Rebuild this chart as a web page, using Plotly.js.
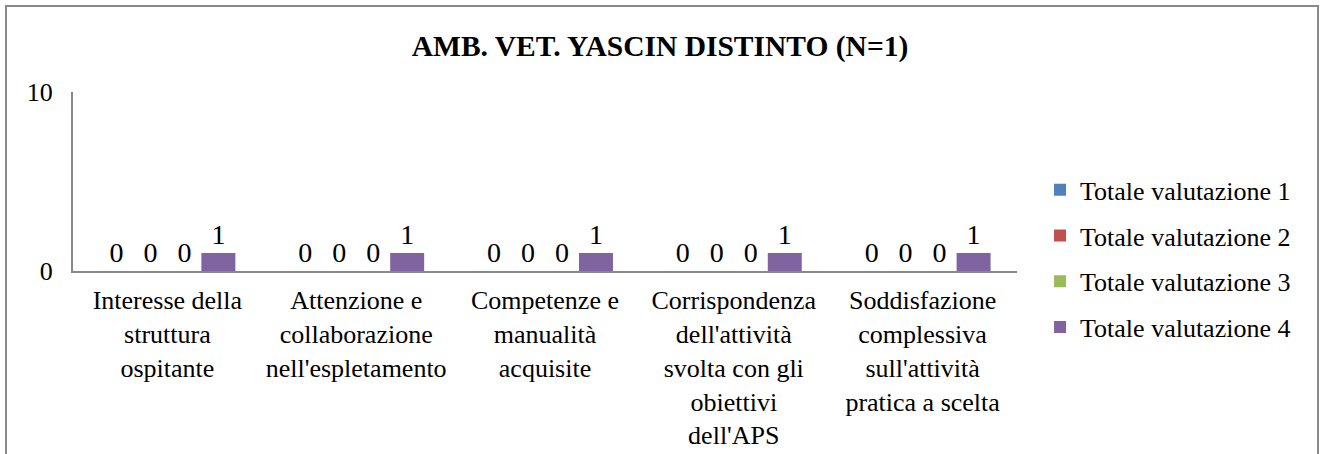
<!DOCTYPE html>
<html>
<head>
<meta charset="utf-8">
<script src="https://cdn.plot.ly/plotly-3.0.1.min.js"></script>
<style>
  body { margin: 0; background: #fff; overflow: hidden; }
  #chart { width: 1328px; height: 454px; position: absolute; left: 0; top: 0; }
  #frame { position: absolute; left: 5px; top: 5px; width: 1310px; height: 470px;
           border: 2px solid #898989; pointer-events: none; }
</style>
</head>
<body>
<div id="chart"></div>
<div id="frame"></div>
<script>
// categories (x axis labels, already broken like the original)
var categories = [
    "Interesse della<br>struttura<br>ospitante",
    "Attenzione e<br>collaborazione<br>nell'espletamento",
    "Competenze e<br>manualità<br>acquisite",
    "Corrispondenza<br>dell'attività<br>svolta con gli<br>obiettivi<br>dell'APS",
    "Soddisfazione<br>complessiva<br>sull'attività<br>pratica a scelta"
];

var seriesNames = ["Totale valutazione 1", "Totale valutazione 2", "Totale valutazione 3", "Totale valutazione 4"];
var val1 = [0, 0, 0, 0, 0];
var val2 = [0, 0, 0, 0, 0];
var val3 = [0, 0, 0, 0, 0];
var val4 = [1, 1, 1, 1, 1];
var colors = ["#4F81BD", "#C0504D", "#9BBB59", "#8064A2"];

var font = "'Liberation Serif', 'Times New Roman', Times, serif";
var fs = 26;
var allVals = [val1, val2, val3, val4];

var data = allVals.map(function(v, i) {
    return {
        x: categories,
        y: v,
        name: seriesNames[i],
        type: "bar",
        marker: {color: colors[i]},
        text: v.map(String),
        textposition: "outside",
        textfont: {family: font, size: 28, color: "#000"},
        constraintext: "none",
        cliponaxis: false,
        legendgroup: "g" + i,
        hoverinfo: "skip"
    };
});

var layout = {
    width: 1328,
    height: 454,
    margin: {l: 73, r: 311, t: 92, b: 183},
    paper_bgcolor: "#fff",
    plot_bgcolor: "#fff",
    font: {family: font, size: fs, color: "#000"},
    title: {
        text: "<b>AMB. VET. YASCIN DISTINTO (N=1)</b>",
        font: {family: font, size: 29.5, color: "#000"},
        x: 0.497, xref: "container", xanchor: "center",
        y: 0.90, yref: "container", yanchor: "middle"
    },
    barmode: "group",
    bargap: 0.28,
    bargroupgap: 0,
    xaxis: {
        showline: true, linecolor: "#898989", linewidth: 2,
        ticks: "", showgrid: false, zeroline: false,
        ticklabelstandoff: 5,
        tickfont: {family: font, size: fs, color: "#000"}
    },
    yaxis: {
        range: [0, 10],
        tickvals: [0, 10],
        showline: true, linecolor: "#898989", linewidth: 2,
        ticks: "", showgrid: false, zeroline: false,
        ticklabelstandoff: 13,
        tickfont: {family: font, size: fs, color: "#000"}
    },
    showlegend: true,
    legend: {
        x: 1.0244, xanchor: "left",
        y: 0.085, yanchor: "middle",
        font: {family: font, size: fs, color: "#000"},
        tracegroupgap: 9,
        itemclick: false
    }
};

Plotly.newPlot("chart", data, layout, {displayModeBar: false, staticPlot: true});
</script>
</body>
</html>
